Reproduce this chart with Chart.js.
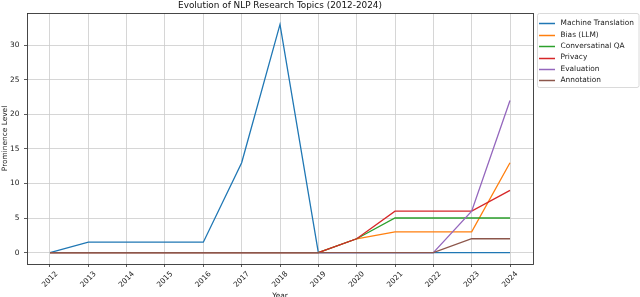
<!DOCTYPE html>
<html>
<head>
<meta charset="utf-8">
<script src="https://cdn.jsdelivr.net/npm/chart.js@4/dist/chart.umd.min.js"></script>
<style>
html,body{margin:0;padding:0;background:#fff;}
#wrap{width:640px;height:297px;}
</style>
</head>
<body>
<div id="wrap"><canvas id="c" width="640" height="297"></canvas></div>
<script>
const years = [2012, 2013, 2014, 2015, 2016, 2017, 2018, 2019, 2020, 2021, 2022, 2023, 2024];
const machineTranslation = [0, 1.5, 1.5, 1.5, 1.5, 13, 33, 0, 0, 0, 0, 0, 0];
const biasLLM = [0, 0, 0, 0, 0, 0, 0, 0, 2, 3, 3, 3, 13];
const conversationalQA = [0, 0, 0, 0, 0, 0, 0, 0, 2, 5, 5, 5, 5];
const privacy = [0, 0, 0, 0, 0, 0, 0, 0, 2, 6, 6, 6, 9];
const evaluation = [0, 0, 0, 0, 0, 0, 0, 0, 0, 0, 0, 6, 22];
const annotation = [0, 0, 0, 0, 0, 0, 0, 0, 0, 0, 0, 2, 2];
const seriesNames = ["Machine Translation", "Bias (LLM)", "Conversatinal QA", "Privacy", "Evaluation", "Annotation"];
const yTicks = [0, 5, 10, 15, 20, 25, 30];
const chartTitle = "Evolution of NLP Research Topics (2012-2024)";
const xTitle = "Year";
const yTitle = "Prominence Level";

const colors = ["#1f77b4", "#ff7f0e", "#2ca02c", "#d62728", "#9467bd", "#8c564b"];
const allSeries = [machineTranslation, biasLLM, conversationalQA, privacy, evaluation, annotation];
const FONT = "'DejaVu Sans', sans-serif";

const datasets = allSeries.map((s, i) => ({
  label: seriesNames[i],
  data: s.map((v, j) => ({x: years[j], y: v})),
  borderColor: colors[i],
  backgroundColor: colors[i],
  borderWidth: 1.3,
  pointRadius: 0,
  tension: 0,
  fill: false,
  order: allSeries.length - i
}));

const yMaxData = Math.max(...allSeries.flat());
const yMinData = Math.min(...allSeries.flat());
const yPad = (yMaxData - yMinData) * 0.05;
const xPad = (years[years.length - 1] - years[0]) * 0.05;

const decor = {
  id: 'decor',
  afterDraw(chart) {
    const ctx = chart.ctx;
    const a = chart.chartArea;
    const xs = chart.scales.x, ys = chart.scales.y;
    ctx.save();
    // spines
    ctx.strokeStyle = '#333333';
    ctx.lineWidth = 0.9;
    ctx.strokeRect(Math.round(a.left) + 0.5, Math.round(a.top) + 0.5, Math.round(a.right - a.left), Math.round(a.bottom - a.top));
    // x tick labels rotated 45 centered
    ctx.fillStyle = '#222';
    ctx.font = '7.4px ' + FONT;
    ctx.textAlign = 'center';
    ctx.textBaseline = 'middle';
    years.forEach(yr => {
      const px = xs.getPixelForValue(yr);
      ctx.save();
      ctx.translate(px, a.bottom + 15.5);
      ctx.rotate(-Math.PI / 4);
      ctx.fillText(String(yr), 0, 0);
      ctx.restore();
    });
    // y tick labels
    ctx.textAlign = 'right';
    yTicks.forEach(v => {
      ctx.fillText(String(v), a.left - 7.5, ys.getPixelForValue(v));
    });
    // axis titles
    ctx.textAlign = 'center';
    ctx.fillText(xTitle, (a.left + a.right) / 2, 296);
    ctx.save();
    ctx.translate(5, (a.top + a.bottom) / 2);
    ctx.rotate(-Math.PI / 2);
    ctx.fillText(yTitle, 0, 0);
    ctx.restore();
    // title
    ctx.font = '8.9px ' + FONT;
    ctx.fillStyle = '#111';
    ctx.fillText(chartTitle, (a.left + a.right) / 2, 6);
    // legend
    const lx = 537.5, ly = 13.5, lw = 101.5, lh = 74;
    ctx.beginPath();
    const r = 2;
    ctx.moveTo(lx + r, ly);
    ctx.lineTo(lx + lw - r, ly); ctx.quadraticCurveTo(lx + lw, ly, lx + lw, ly + r);
    ctx.lineTo(lx + lw, ly + lh - r); ctx.quadraticCurveTo(lx + lw, ly + lh, lx + lw - r, ly + lh);
    ctx.lineTo(lx + r, ly + lh); ctx.quadraticCurveTo(lx, ly + lh, lx, ly + lh - r);
    ctx.lineTo(lx, ly + r); ctx.quadraticCurveTo(lx, ly, lx + r, ly);
    ctx.closePath();
    ctx.fillStyle = 'rgba(255,255,255,0.8)';
    ctx.fill();
    ctx.strokeStyle = '#d0d0d0';
    ctx.lineWidth = 0.8;
    ctx.stroke();
    ctx.font = '7.4px ' + FONT;
    ctx.textAlign = 'left';
    seriesNames.forEach((n, i) => {
      const yy = 23.3 + i * 11.4;
      ctx.strokeStyle = colors[i];
      ctx.lineWidth = 1.5;
      ctx.beginPath();
      ctx.moveTo(539, Math.round(yy) + 0.5); ctx.lineTo(555, Math.round(yy) + 0.5);
      ctx.stroke();
      ctx.fillStyle = '#222';
      ctx.fillText(n, 560.5, yy);
    });
    ctx.restore();
  }
};

new Chart(document.getElementById('c'), {
  type: 'line',
  data: {datasets},
  options: {
    responsive: false,
    animation: false,
    devicePixelRatio: 1,
    layout: {padding: {top: 13, right: 107, left: 0, bottom: 0}},
    plugins: {legend: {display: false}, title: {display: false}, tooltip: {enabled: false}},
    scales: {
      x: {
        type: 'linear',
        min: years[0] - xPad,
        max: years[years.length - 1] + xPad,
        afterBuildTicks: s => { s.ticks = years.map(v => ({value: v})); },
        afterFit: s => { s.height = 33; },
        ticks: {display: false},
        grid: {color: '#cccccc', lineWidth: 0.8, tickLength: 3, tickColor: '#333', drawTicks: true},
        border: {display: false}
      },
      y: {
        type: 'linear',
        min: yMinData - yPad,
        max: yMaxData + yPad,
        afterBuildTicks: s => { s.ticks = yTicks.map(v => ({value: v})); },
        afterFit: s => { s.width = 27; },
        ticks: {display: false},
        grid: {color: '#cccccc', lineWidth: 0.8, tickLength: 3, tickColor: '#333', drawTicks: true},
        border: {display: false}
      }
    }
  },
  plugins: [decor]
});
</script>
</body>
</html>
